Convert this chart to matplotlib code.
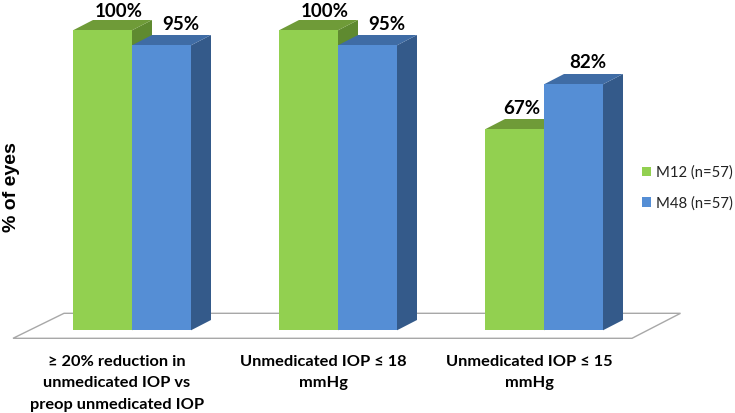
import numpy as np
import matplotlib
matplotlib.use("Agg")
import matplotlib.pyplot as plt
from matplotlib.patches import Polygon

categories = ["≥ 20% reduction in\nunmedicated IOP vs\npreop unmedicated IOP",
              "Unmedicated IOP ≤ 18\nmmHg",
              "Unmedicated IOP ≤ 15\nmmHg"]
m12_values = [100, 100, 67]
m48_values = [95, 95, 82]
series_names = ["M12 (n=57)", "M48 (n=57)"]
ylabel_text = "% of eyes"

W, H = 735, 413
PX_PER_CAT = 206.0
PX_PER_VAL = 3.0
X0_PX = 132.0
Y0_PX = 330.3
FLOOR_FRONT_PX = 338.3

fig = plt.figure(figsize=(W / 100, H / 100), dpi=100)
ax = fig.add_axes([0, 1 - FLOOR_FRONT_PX / H, 1, FLOOR_FRONT_PX / H])
ax.set_xlim(-X0_PX / PX_PER_CAT, (W - X0_PX) / PX_PER_CAT)
ax.set_ylim((Y0_PX - FLOOR_FRONT_PX) / PX_PER_VAL, Y0_PX / PX_PER_VAL)
for s in ax.spines.values():
    s.set_visible(False)

def xu(px):
    return px / PX_PER_CAT
def yu(px):
    return px / PX_PER_VAL

# floor
floor_px = [(13, 338.3), (632, 338.3), (680.5, 313.3), (64, 313.3)]
floor = Polygon([(xu(x - X0_PX), yu(Y0_PX - y)) for x, y in floor_px], closed=True,
                facecolor="white", edgecolor="#a8a8a8", linewidth=1.0, zorder=1, clip_on=False)
ax.add_patch(floor)

bw = xu(59)
dx, dy = xu(20), yu(10.3)
x = np.arange(len(categories))
styles = [("#92D050", "#6F9B38", "#5F8A30"), ("#558ED5", "#3F6CA5", "#345A8A")]
offsets = [-bw / 2, bw / 2]
handles = []
z = 2
for vals, off, (front, top, side), name in zip([m12_values, m48_values], offsets, styles, series_names):
    for xi, v in zip(x + off, vals):
        l, r = xi - bw / 2, xi + bw / 2
        ax.add_patch(Polygon([(r, 0), (r + dx, dy), (r + dx, v + dy), (r, v)], closed=True,
                             facecolor=side, edgecolor="none", zorder=z))
        ax.add_patch(Polygon([(l, v), (r, v), (r + dx, v + dy), (l + dx, v + dy)], closed=True,
                             facecolor=top, edgecolor="none", zorder=z))
    bars = ax.bar(x + off, vals, width=bw, color=front, zorder=z + 1, label=name, linewidth=0)
    handles.append(bars)
    z += 2

# value labels (pixel nudges relative to the front top-centre of each bar)
nudges = [[(16, 19), (16, 19), (7, 21)], [(19, 21), (19, 21), (14, 22)]]
for vals, off, nud in zip([m12_values, m48_values], offsets, nudges):
    for xi, v, (nx, ny) in zip(x + off, vals, nud):
        ax.annotate(f"{v}%", (xi, v), xytext=(nx * 0.72, ny * 0.72), textcoords="offset points",
                    ha="center", va="center", fontsize=13.5, fontweight="bold",
                    family="Lato", color="black", zorder=20, annotation_clip=False)

ax.set_xticks(x - xu(15))
ax.set_xticklabels(categories, family="Lato", fontweight="bold", fontsize=11.8,
                   linespacing=1.68, color="black")
ax.tick_params(axis="x", length=0, pad=12)
ax.set_yticks([])
ax.set_ylabel(ylabel_text, family="Liberation Sans", fontweight="bold", fontsize=14, color="black")
ax.yaxis.set_label_coords(20 / W, (FLOOR_FRONT_PX - 187) / FLOOR_FRONT_PX)

ax.legend(handles=handles, labels=series_names, loc="center left",
          bbox_to_anchor=(642 / W, (FLOOR_FRONT_PX - 188) / FLOOR_FRONT_PX),
          frameon=False, prop={"family": "Lato", "size": 10.7},
          handlelength=0.62, handleheight=0.62, handletextpad=0.34,
          labelspacing=1.1, borderpad=0, borderaxespad=0, labelcolor="#222222")

fig.savefig("out.png", dpi=100, facecolor="white")
